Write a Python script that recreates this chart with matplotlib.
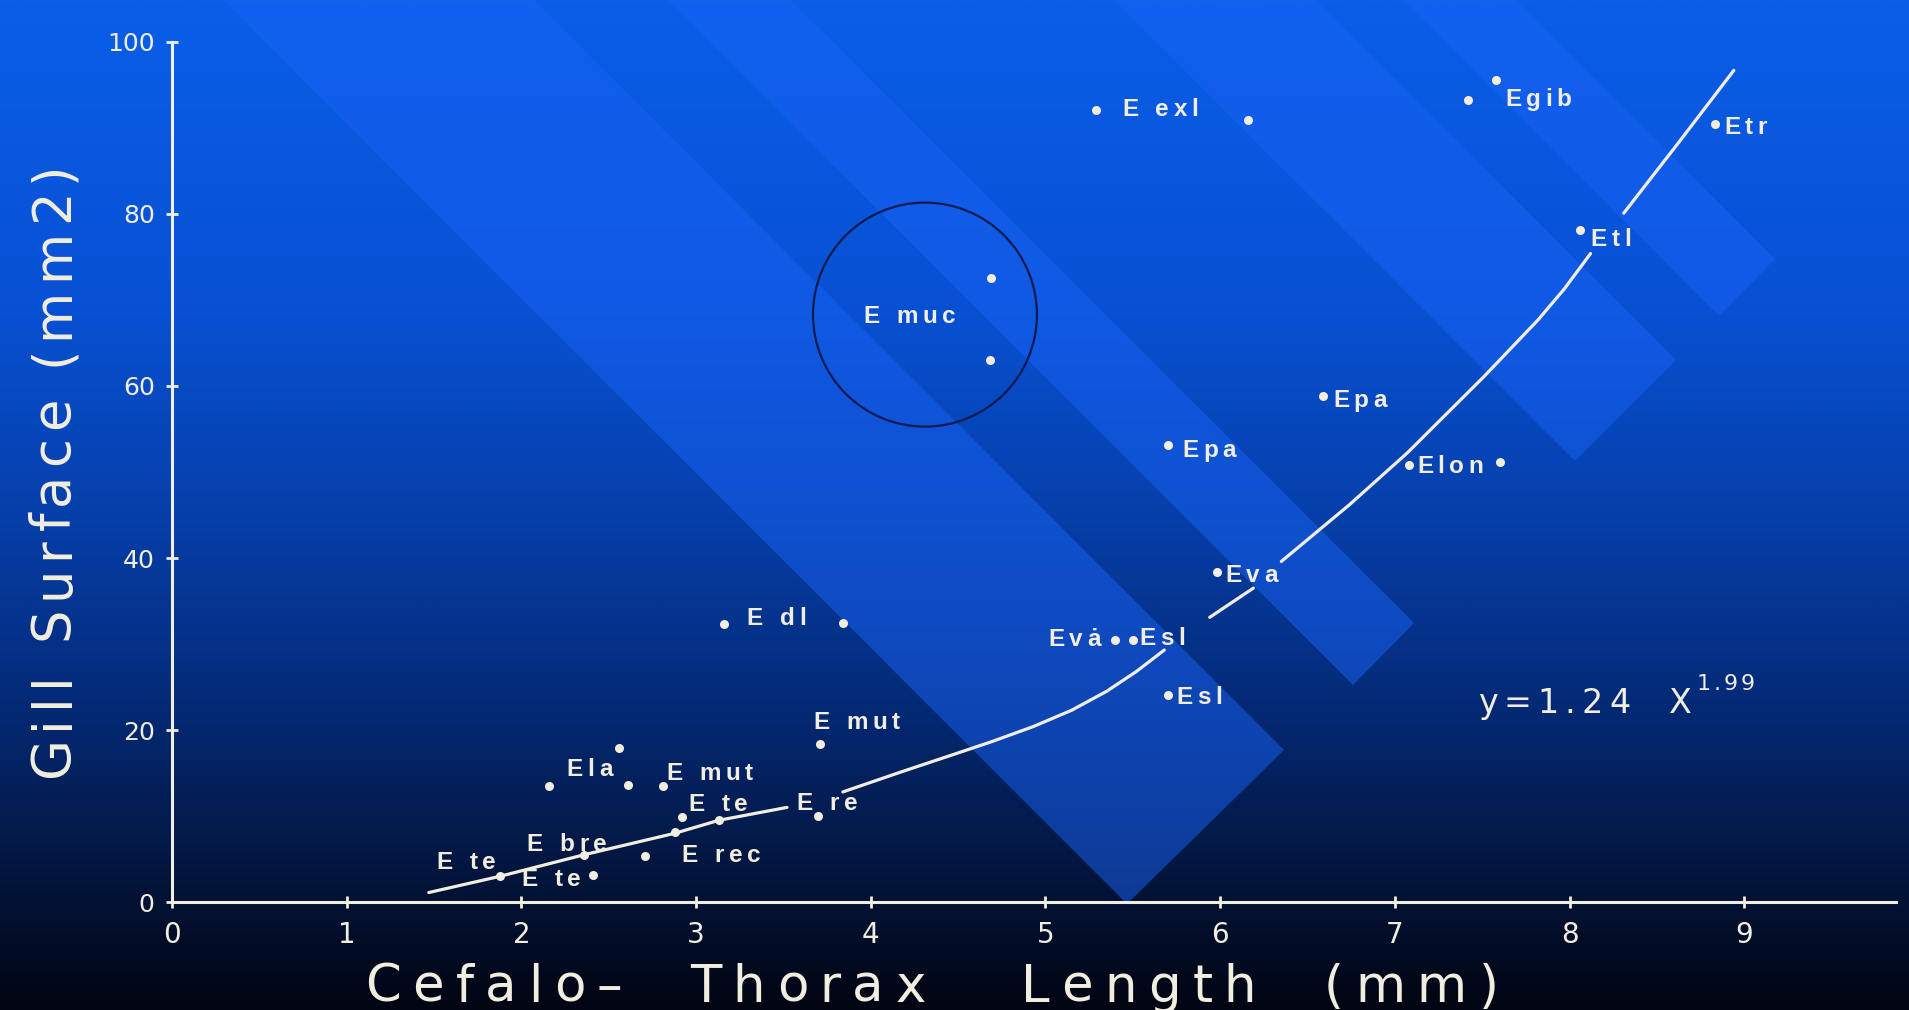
import numpy as np
import matplotlib

matplotlib.use("Agg")
import matplotlib.pyplot as plt
from matplotlib.colors import LinearSegmentedColormap
from matplotlib.patches import Ellipse, Polygon
from matplotlib.transforms import IdentityTransform

W, H = 1909, 1010
CREAM = "#f2eedf"

# scatter: cephalothorax length (mm) vs gill surface (mm2)
length_mm = [1.88, 2.41, 2.36, 2.71, 2.88, 2.92, 3.13, 2.16, 2.56, 2.61, 2.81,
             3.70, 3.71, 3.16, 3.84, 4.69, 4.68, 5.29, 6.16, 5.40, 5.50, 5.70,
             5.98, 5.70, 6.59, 7.08, 7.60, 7.42, 7.58, 8.06, 8.83]
gill_mm2 = [3.0, 3.1, 5.5, 5.4, 8.1, 9.9, 9.5, 13.5, 17.9, 13.6, 13.5,
            10.0, 18.4, 32.3, 32.5, 72.5, 63.0, 92.1, 90.9, 30.5, 30.5, 24.1,
            38.4, 53.1, 58.8, 50.8, 51.2, 93.3, 95.6, 78.1, 90.5]

# hand-drawn regression line, broken where it crosses the labels
fit_x = [1.47, 1.88, 2.36, 2.88, 3.13, 3.52, np.nan, 3.84, 4.17, 4.48, 4.70,
         4.93, 5.15, 5.35, 5.52, 5.68, np.nan, 5.94, 6.19, np.nan, 6.35, 6.74,
         7.07, 7.51, 7.82, 7.97, 8.12, np.nan, 8.31, 8.62, 8.94]
fit_y = [1.1, 3.0, 5.5, 8.0, 9.5, 11.0, np.nan, 12.8, 15.1, 17.2, 18.7,
         20.4, 22.3, 24.5, 26.8, 29.3, np.nan, 33.1, 36.5, np.nan, 39.6, 46.2,
         52.2, 61.1, 67.7, 71.3, 75.4, np.nan, 80.1, 88.2, 96.7]

species = ["E te", "E bre", "E te", "Ela", "E mut", "E te", "E rec", "E re",
           "E mut", "E dl", "E muc", "E exl", "Egib", "Etr", "Etl", "Epa",
           "Epa", "Elon", "Eva", "Evȧ", "Esl", "Esl"]
species_x = [1.515, 2.03, 2.00, 2.26, 2.83, 2.955, 2.918, 3.576, 3.671, 3.29,
             3.957, 5.44, 7.63, 8.886, 8.12, 6.645, 5.784, 7.126, 6.028, 5.017,
             5.54, 5.749]
species_y = [4.88, 6.94, 2.95, 15.66, 15.27, 11.59, 5.66, 11.78, 21.16, 33.2,
             68.37, 92.4, 93.6, 90.3, 77.3, 58.6, 52.75, 50.9, 38.3, 30.85,
             30.9, 24.07]

x_ticks = list(range(10))
y_ticks = list(range(0, 101, 20))

# slide background: vertical blue fade plus diagonal light bands
bg_stops = [(0.0, "#0a5ee8"), (0.3, "#0851d4"), (0.5, "#0640ac"),
            (0.7, "#042a76"), (0.86, "#03163f"), (1.0, "#010512")]
bands = [((1127, 904), (1284, 750)), ((1353, 685), (1414, 623)),
         ((1575, 461), (1676, 360)), ((1719, 316), (1775, 259))]

fig = plt.figure(figsize=(W / 100, H / 100), dpi=100)

bg = fig.add_axes([0, 0, 1, 1])
bg.set_xlim(0, W)
bg.set_ylim(H, 0)
bg.axis("off")
cmap = LinearSegmentedColormap.from_list("slide", bg_stops)
bg.imshow(np.linspace(0, 1, 600)[:, None], cmap=cmap, aspect="auto",
          extent=[0, W, H, 0], zorder=0)
for (bx, by), (rx, ry) in bands:
    far = 1600
    poly = [(bx, by), (rx, ry), (rx - far, ry - far), (bx - far, by - far)]
    bg.add_patch(Polygon(poly, closed=True, fc="#1862f5", alpha=0.5, lw=0, zorder=1))

ax = fig.add_axes([0, 0, 1, 1])
ax.set_facecolor("none")
ax.set_xlim(-172 / 174.7, (W - 172) / 174.7)
ax.set_ylim(-(H - 902) / 8.6, 902 / 8.6)

for side in ("top", "right"):
    ax.spines[side].set_visible(False)
ax.spines["left"].set_position(("data", 0))
ax.spines["bottom"].set_position(("data", 0))
ax.spines["left"].set_bounds(0, 100)
ax.spines["bottom"].set_bounds(0, 9.87)
for side in ("left", "bottom"):
    ax.spines[side].set_color(CREAM)
    ax.spines[side].set_linewidth(2.2)

ax.set_xticks(x_ticks)
ax.set_yticks(y_ticks)
ax.tick_params(axis="both", direction="inout", length=9, width=2, colors=CREAM)
ax.tick_params(axis="x", pad=9, labelsize=20)
ax.tick_params(axis="y", pad=8, labelsize=18)

ax.plot(fit_x, fit_y, color=CREAM, lw=2.3, solid_capstyle="round",
        solid_joinstyle="round", zorder=3)
ax.plot(length_mm, gill_mm2, "o", ms=6.5, color=CREAM, mec="none", zorder=4)
ax.add_patch(Ellipse((4.31, 68.3), 1.282, 26.05, fill=False, ec="#0b1a4f", lw=1.6, zorder=2))

renderer = fig.canvas.get_renderer()


def tracked(x, y, s, track, size, rotation=0, **kw):
    """Write s one glyph at a time (display pixels) with extra letter spacing."""
    space = 0.32 * size * fig.dpi / 72
    for ch in s:
        if ch == " ":
            step = space
        else:
            t = fig.text(x, y, ch, transform=IdentityTransform(), fontsize=size,
                         rotation=rotation, rotation_mode="anchor", ha="left",
                         va="baseline", color=CREAM, **kw)
            bb = t.get_window_extent(renderer)
            step = bb.height if rotation else bb.width
        step += track
        if rotation:
            y += step
        else:
            x += step
    return x, y


for name, lx, ly in zip(species, species_x, species_y):
    dx, dy = ax.transData.transform((lx, ly))
    tracked(dx, dy - 9, name, 4.5, 17.5, family="Liberation Sans", weight="bold")

ex, ey = ax.transData.transform((7.475, 21.98))
end_x, _ = tracked(ex, ey, "y=1.24  X", 6, 24, family="DejaVu Sans")
sx, sy = ax.transData.transform((0, 24.6))
tracked(end_x - 2, sy, "1.99", 3, 16, family="DejaVu Sans")

tracked(365, H - 1002, "Cefalo–  Thorax   Length  (mm)", 11.5, 37, family="DejaVu Sans")
tracked(68, H - 777, "Gill Surface (mm2)", 7, 38, rotation=90, family="DejaVu Sans")

fig.savefig("out.png", dpi=100)
